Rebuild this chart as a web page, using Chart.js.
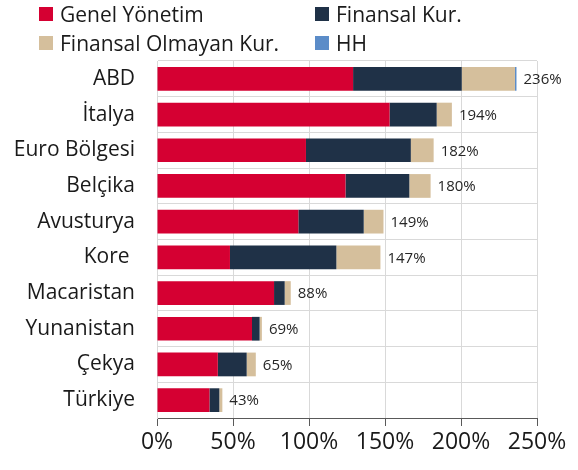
<!DOCTYPE html>
<html>
<head>
<meta charset="utf-8">
<script src="https://cdn.jsdelivr.net/npm/chart.js@4.4.1/dist/chart.umd.min.js"></script>
<style>
  body { margin: 0; background: #fff; }
  #wrap { position: relative; width: 578px; height: 470px; }
  #legend {
    position: absolute; top: 0; left: 39px;
    display: grid; grid-template-columns: 276px auto;
    font-family: 'Open Sans', sans-serif; font-size: 21px; color: #1a1a1a;
  }
  .item { display: flex; align-items: center; height: 28.5px; white-space: nowrap; }
  .box { width: 14px; height: 14px; margin-right: 7px; }
</style>
</head>
<body>
<div id="wrap">
  <div id="legend"></div>
  <canvas id="debtChart" width="578" height="470"></canvas>
</div>
<script>
// Countries (top to bottom) and debt by sector, % of GDP
const countries = ['ABD', 'İtalya', 'Euro Bölgesi', 'Belçika', 'Avusturya', 'Kore ', 'Macaristan', 'Yunanistan', 'Çekya', 'Türkiye'];
const genelYonetim = [129, 153, 98, 124, 93, 48, 77, 62.5, 40, 34.5];
const finansalKur = [71.5, 31, 69, 42, 43, 70, 7, 5, 19, 6.5];
const finansalOlmayanKur = [35, 10, 15, 14, 13, 29, 4, 1.5, 6, 2];
const hh = [1, 0, 0, 0, 0, 0, 0, 0, 0, 0];
const totals = [236, 194, 182, 180, 149, 147, 88, 69, 65, 43];
const xTicks = [0, 50, 100, 150, 200, 250];

Chart.defaults.font.family = "'Open Sans', sans-serif";
Chart.defaults.color = '#1a1a1a';

const datasets = [
    { label: 'Genel Yönetim', data: genelYonetim, backgroundColor: '#D50032' },
    { label: 'Finansal Kur.', data: finansalKur, backgroundColor: '#1F3147' },
    { label: 'Finansal Olmayan Kur.', data: finansalOlmayanKur, backgroundColor: '#D5BF9C' },
    { label: 'HH', data: hh, backgroundColor: '#5B8CC8' }
];

// legend in two columns, order as in the original
const legendOrder = [0, 1, 2, 3];
const legendEl = document.getElementById('legend');
legendOrder.forEach(i => {
    const item = document.createElement('div');
    item.className = 'item';
    item.innerHTML = '<span class="box" style="background:' + datasets[i].backgroundColor + '"></span>' + datasets[i].label;
    legendEl.appendChild(item);
});

// total label at the end of each stacked bar
const totalLabels = {
    id: 'totalLabels',
    afterDatasetsDraw(chart) {
        const ctx = chart.ctx;
        const meta = chart.getDatasetMeta(chart.data.datasets.length - 1);
        ctx.save();
        ctx.font = "15px 'Open Sans', sans-serif";
        ctx.fillStyle = '#262626';
        ctx.textAlign = 'left';
        ctx.textBaseline = 'middle';
        meta.data.forEach((bar, i) => {
            ctx.fillText(totals[i] + '%', bar.x + 7, bar.y + 1);
        });
        ctx.restore();
    }
};

new Chart(document.getElementById('debtChart'), {
    type: 'bar',
    data: {
        labels: countries,
        datasets: datasets.map(d => Object.assign({ borderWidth: 0, barPercentage: 0.665, categoryPercentage: 1 }, d))
    },
    options: {
        responsive: false,
        animation: false,
        indexAxis: 'y',
        layout: { padding: { top: 61, right: 41, left: 0, bottom: 0 } },
        plugins: { legend: { display: false }, tooltip: { enabled: false } },
        scales: {
            x: {
                stacked: true,
                min: 0,
                max: 250,
                afterBuildTicks: scale => { scale.ticks = xTicks.map(v => ({ value: v })); },
                afterFit: scale => { scale.height = 52; },
                grid: { color: '#d9d9d9', tickColor: '#595959', tickLength: 8 },
                border: { color: '#595959' },
                ticks: { padding: 3, color: '#1a1a1a', font: { size: 23 }, callback: v => v + '%' }
            },
            y: {
                stacked: true,
                afterFit: scale => { scale.width = 157; },
                grid: { color: '#d9d9d9', drawTicks: false },
                border: { color: '#d9d9d9' },
                ticks: { padding: 22, color: '#1a1a1a', font: { size: 21 } }
            }
        }
    },
    plugins: [totalLabels]
});
</script>
</body>
</html>
